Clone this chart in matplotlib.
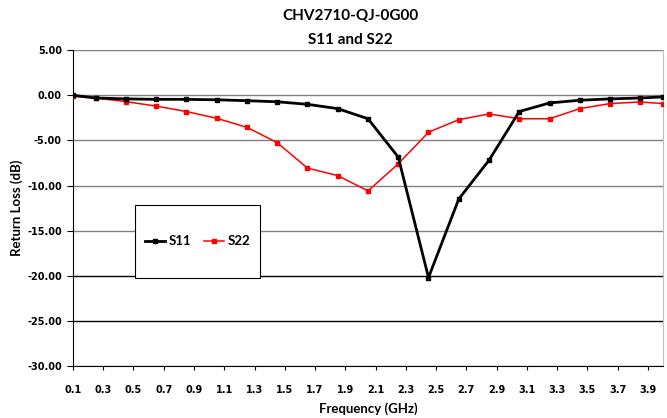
import numpy as np
import matplotlib
matplotlib.use('Agg')
import matplotlib.pyplot as plt
from matplotlib.ticker import FormatStrFormatter
from matplotlib.patches import Rectangle

plt.rcParams['font.family'] = ['Lato', 'DejaVu Sans']
plt.rcParams['font.weight'] = 'bold'

# frequency points (GHz)
freq = [0.1, 0.25, 0.45, 0.65, 0.85, 1.05, 1.25, 1.45, 1.65, 1.85, 2.05,
        2.25, 2.45, 2.65, 2.85, 3.05, 3.25, 3.45, 3.65, 3.85, 4.0]

s11 = [0.0, -0.3, -0.4, -0.45, -0.45, -0.5, -0.6, -0.72, -1.0, -1.48, -2.6,
       -6.85, -20.2, -11.5, -7.2, -1.8, -0.85, -0.55, -0.4, -0.3, -0.18]

s22 = [-0.1, -0.3, -0.7, -1.2, -1.8, -2.55, -3.55, -5.25, -8.07, -8.9, -10.6,
       -7.6, -4.1, -2.7, -2.07, -2.6, -2.6, -1.48, -0.92, -0.74, -0.92]

xticks = [0.1, 0.3, 0.5, 0.7, 0.9, 1.1, 1.3, 1.5, 1.7, 1.9,
          2.1, 2.3, 2.5, 2.7, 2.9, 3.1, 3.3, 3.5, 3.7, 3.9]
yticks = [5, 0, -5, -10, -15, -20, -25, -30]


fig = plt.figure(figsize=(6.67, 4.18), dpi=100)
ax = fig.add_axes([0.1094, 0.1244, 0.8846, 0.7556])

ax.plot(freq, s11, color='black', lw=2.0, marker='s', ms=2.5,
        label='S11', zorder=4)
ax.plot(freq, s22, color='#ff0000', lw=1.1, marker='s', ms=2.8,
        label='S22', zorder=3)

ax.set_xlim(0.1, 4.0)
ax.set_ylim(-30, 5)
ax.set_xticks(xticks)
ax.set_xticklabels([str(t) for t in xticks])
ax.set_yticks(yticks)
ax.yaxis.set_major_formatter(FormatStrFormatter('%.2f'))

ax.grid(axis='y', color='#808080', lw=1.0)
ax.set_axisbelow(True)
for val, gl in zip(yticks, ax.get_ygridlines()):
    if val in (-20, -25):
        gl.set_color('black')

ax.spines['top'].set_visible(False)
ax.spines['right'].set_color('#c0c0c0')
ax.spines['left'].set_color('black')
ax.spines['bottom'].set_color('black')

ax.tick_params(axis='x', length=3, width=0.8, direction='out', pad=11)
ax.tick_params(axis='y', length=4, width=0.8, direction='out', pad=4)
# tick numbers in a wider face, closer to the original's look
for lbl in ax.get_xticklabels() + ax.get_yticklabels():
    lbl.set_family('DejaVu Sans')
    lbl.set_fontweight('bold')
    lbl.set_fontsize(7)

ax.set_xlabel('Frequency (GHz)', fontsize=9.5, fontweight='bold', labelpad=5)
ax.set_ylabel('Return Loss (dB)', fontsize=9.5, fontweight='bold', labelpad=3)

fig.text(0.525, 0.962, 'CHV2710-QJ-0G00', ha='center', va='center',
         fontsize=11, fontweight='bold')
fig.text(0.525, 0.904, 'S11 and S22', ha='center', va='center',
         fontsize=11, fontweight='bold')

# legend box drawn by hand so it can be narrow and tall like the original
box = Rectangle((0.1053, 0.2790), 0.2117, 0.2310, transform=ax.transAxes,
                facecolor='white', edgecolor='black', lw=0.8, zorder=5)
ax.add_patch(box)
leg = ax.legend(loc='center', bbox_to_anchor=(0.2111, 0.3945),
                ncol=2, frameon=False, handlelength=1.5, handletextpad=0.25,
                columnspacing=1.0, borderaxespad=0,
                prop={'weight': 'bold', 'size': 9.5})
leg.set_zorder(6)

plt.savefig('out.png', dpi=100)
plt.close('all')
